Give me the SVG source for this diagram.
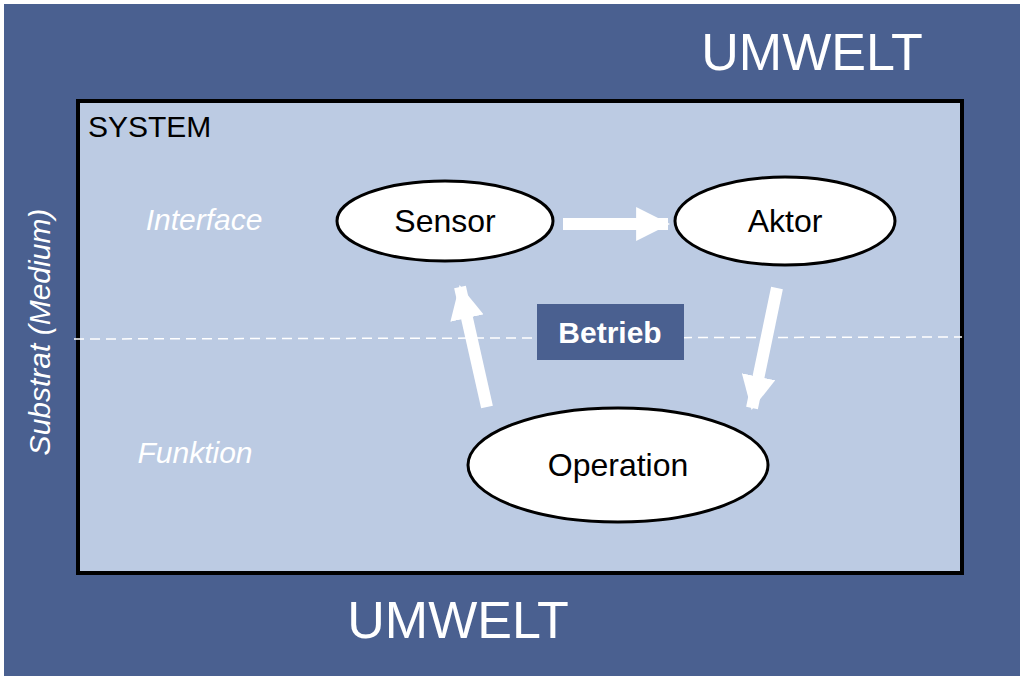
<svg xmlns="http://www.w3.org/2000/svg" width="1024" height="680" viewBox="0 0 1024 680">
<style>
.n{fill:#fff;stroke:#000;stroke-width:3}
.t{font-family:"Liberation Sans",Arial,sans-serif;fill:#000;text-anchor:middle}
.w{font-family:"Liberation Sans",Arial,sans-serif;fill:#fff}
.a{stroke:#fff;stroke-width:12;fill:none}
</style>
<defs><marker id="h" markerUnits="userSpaceOnUse" markerWidth="34" markerHeight="34" refX="30" refY="16" orient="auto" viewBox="0 0 32 32"><path d="M0,0 L32,16 L0,32 Z" fill="#fff"/></marker></defs>
<rect x="0" y="0" width="1024" height="680" fill="#fff"/>
<rect x="4" y="4" width="1016" height="672" fill="#4a6090"/>
<g id="system"><rect x="78" y="101" width="884" height="472" fill="#bccbe3" stroke="#000" stroke-width="4"/>
<text class="t" x="88" y="137" font-size="30" text-anchor="start" style="text-anchor:start">SYSTEM</text></g>
<line x1="74" y1="339" x2="962" y2="337" stroke="#fff" stroke-width="1.5" stroke-dasharray="10,6"/>
<text class="w" x="812" y="70" font-size="52" text-anchor="middle">UMWELT</text>
<text class="w" x="458" y="638" font-size="52" text-anchor="middle">UMWELT</text>
<text class="w" x="50" y="332" font-size="30" font-style="italic" text-anchor="middle" transform="rotate(-90 50 332)">Substrat (Medium)</text>
<text class="w" x="204" y="230" font-size="30" font-style="italic" text-anchor="middle">Interface</text>
<text class="w" x="195" y="463" font-size="30" font-style="italic" text-anchor="middle">Funktion</text>
<g id="connectors">
<line class="a" x1="563" y1="224" x2="668" y2="224" marker-end="url(#h)"/>
<line class="a" x1="487" y1="407" x2="460" y2="287" marker-end="url(#h)"/>
<line class="a" x1="777" y1="288" x2="752" y2="408" marker-end="url(#h)"/>
</g>
<g id="betrieb"><rect x="537" y="304" width="147" height="56" fill="#4a6090"/>
<text class="w" x="610" y="343" font-size="30" font-weight="bold" text-anchor="middle">Betrieb</text></g>
<g id="sensor"><ellipse class="n" cx="445" cy="221" rx="108" ry="40"/><text class="t" x="445" y="232" font-size="32">Sensor</text></g>
<g id="aktor"><ellipse class="n" cx="785" cy="221" rx="110" ry="44"/><text class="t" x="785" y="232" font-size="32">Aktor</text></g>
<g id="operation"><ellipse class="n" cx="618" cy="465" rx="150" ry="57"/><text class="t" x="618" y="476" font-size="32">Operation</text></g>
</svg>
